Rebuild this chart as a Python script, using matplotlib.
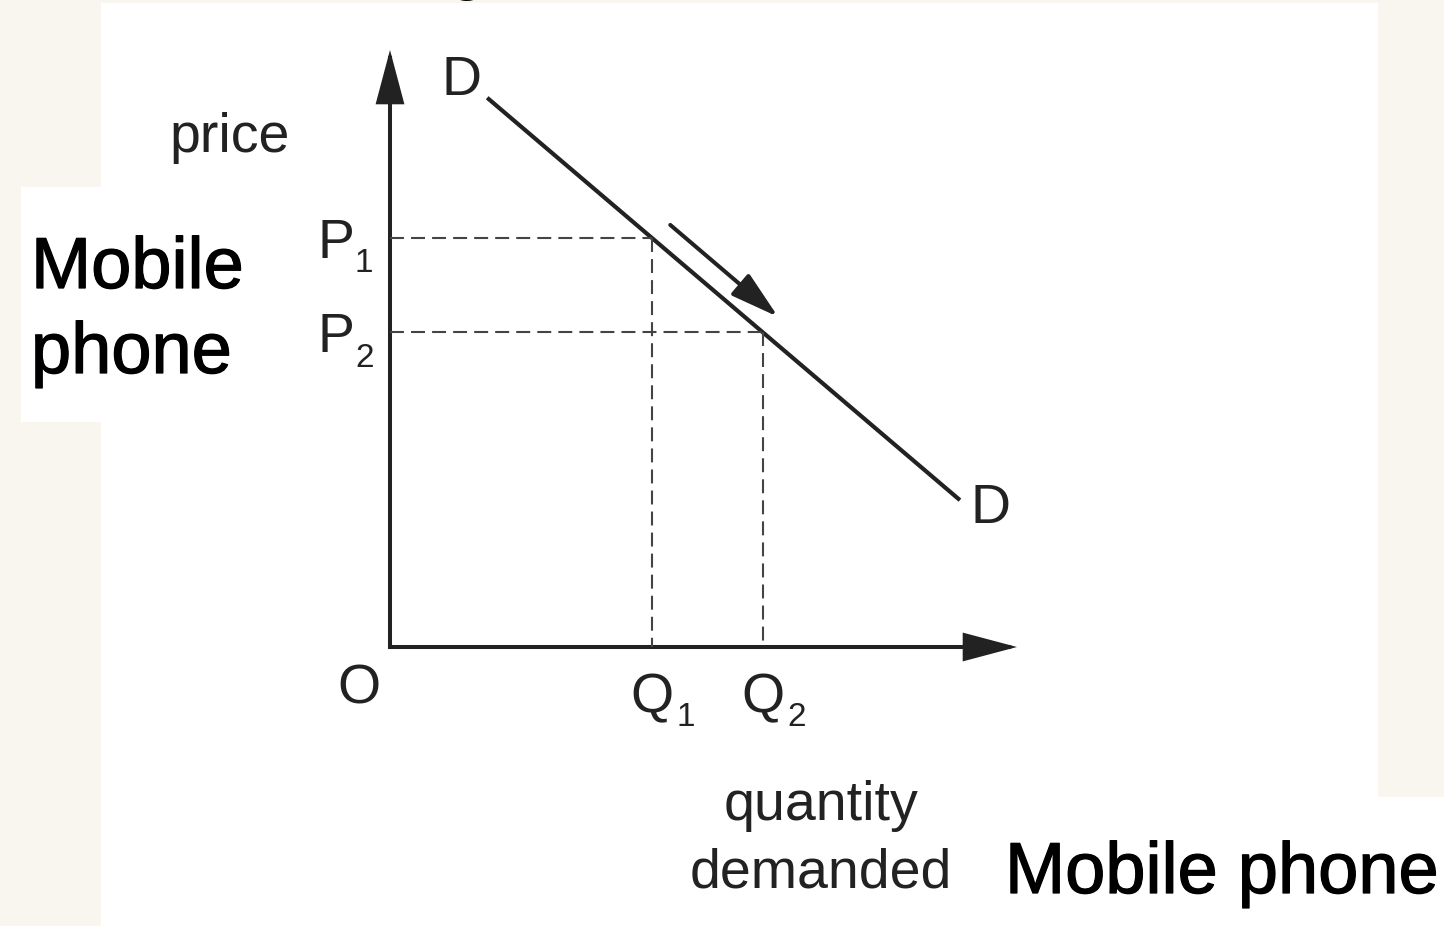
import matplotlib
matplotlib.use("Agg")
import matplotlib.pyplot as plt
import matplotlib.patheffects as pe
from matplotlib.patches import Rectangle, FancyArrowPatch

# Demand diagram values (quantity on x, price on y, arbitrary 0-10 units)
demand_q = [1.55, 9.09]
demand_p = [9.20, 2.46]
q_levels = [4.18, 5.95]
p_levels = [6.85, 5.28]
shift_start = (4.47, 7.07)
shift_end = (6.19, 5.53)
axis_max = 10

W, H = 1444, 926
cream = "#f9f5ef"
ink = "#222222"
plt.rcParams["font.family"] = ["Liberation Sans", "DejaVu Sans"]

fig = plt.figure(figsize=(W / 100, H / 100), dpi=100, facecolor=cream)


def box(x0, y0, x1, y1, color="white"):
    # rectangles given in image pixels (top-left origin)
    fig.add_artist(Rectangle((x0 / W, 1 - y1 / H), (x1 - x0) / W, (y1 - y0) / H,
                             transform=fig.transFigure, facecolor=color,
                             edgecolor="none", zorder=0))


box(101, 3, 1378, 926)
box(21, 187, 101, 422)
box(990, 797, 1444, 926)

# cut-off heading glyph at the very top
fig.text(448 / W, 1 + 13 / H, "g", fontsize=48, color="black", ha="left", va="baseline")

ax = fig.add_axes([390 / W, (H - 647) / H, (1017 - 390) / W, (647 - 50) / H])
ax.set_xlim(0, axis_max)
ax.set_ylim(0, axis_max)
ax.axis("off")
ax.patch.set_alpha(0)

axis_style = "-|>,head_length=3.2,head_width=0.85"
for end in [(axis_max, 0), (0, axis_max)]:
    arr = FancyArrowPatch((0, 0), end, arrowstyle=axis_style, mutation_scale=10,
                          color=ink, lw=2.9, shrinkA=0, shrinkB=0, clip_on=False,
                          capstyle="projecting", joinstyle="miter")
    ax.add_patch(arr)

# demand curve
ax.plot(demand_q, demand_p, color=ink, lw=3.0, solid_capstyle="butt", clip_on=False)

# dashed guides
for q, p in zip(q_levels, p_levels):
    ax.plot([0, q], [p, p], color="#444444", lw=1.5, dashes=(6.7, 3.4), clip_on=False)
    ax.plot([q, q], [p, 0], color="#444444", lw=1.5, dashes=(6.7, 3.4), clip_on=False)

# movement along the curve
ax.add_patch(FancyArrowPatch(shift_start, shift_end, arrowstyle="-|>,head_length=3.0,head_width=0.85",
                             mutation_scale=10, color=ink, lw=2.9, shrinkA=0, shrinkB=0,
                             clip_on=False))

fs = 40
sub = 24
def label(xy, text, dx, dy, size=fs, ha="left", color=ink):
    ax.annotate(text, xy=xy, xytext=(dx, dy), textcoords="offset pixels",
                fontsize=size, ha=ha, va="baseline", color=color, annotation_clip=False)


for i, (q, p) in enumerate(zip(q_levels, p_levels), start=1):
    label((0, p), "P", -36, -20, ha="right")
    label((0, p), str(i), -35, -34 - (i - 1), size=sub)
    label((q, 0), "Q", 0, -65, ha="center")
    label((q, 0), str(i), 24, -79, size=sub)

label((0, 0), "O", -31, -56, ha="center")
label((demand_q[0], demand_p[0]), "D", -6, 3, ha="right")
label((demand_q[1], demand_p[1]), "D", 11, -23)

# axis titles
fig.text(230 / W, 1 - 152 / H, "price", fontsize=fs, color=ink, ha="center", va="baseline")
fig.text(821 / W, 1 - 820 / H, "quantity", fontsize=fs, color=ink, ha="center", va="baseline")
fig.text(821 / W, 1 - 887 / H, "demanded", fontsize=fs, color=ink, ha="center", va="baseline")

# overlaid labels, slightly heavier than the diagram text
bold = [pe.withStroke(linewidth=0.9, foreground="black")]
big = 52
fig.text(31 / W, 1 - 288 / H, "Mobile", fontsize=big, color="black", ha="left", va="baseline",
         path_effects=bold)
fig.text(31 / W, 1 - 373 / H, "phone", fontsize=big, color="black", ha="left", va="baseline",
         path_effects=bold)
fig.text(1005 / W, 1 - 893 / H, "Mobile phone", fontsize=big, color="black", ha="left",
         va="baseline", path_effects=bold)

fig.savefig("out.png", dpi=100, facecolor=cream)
